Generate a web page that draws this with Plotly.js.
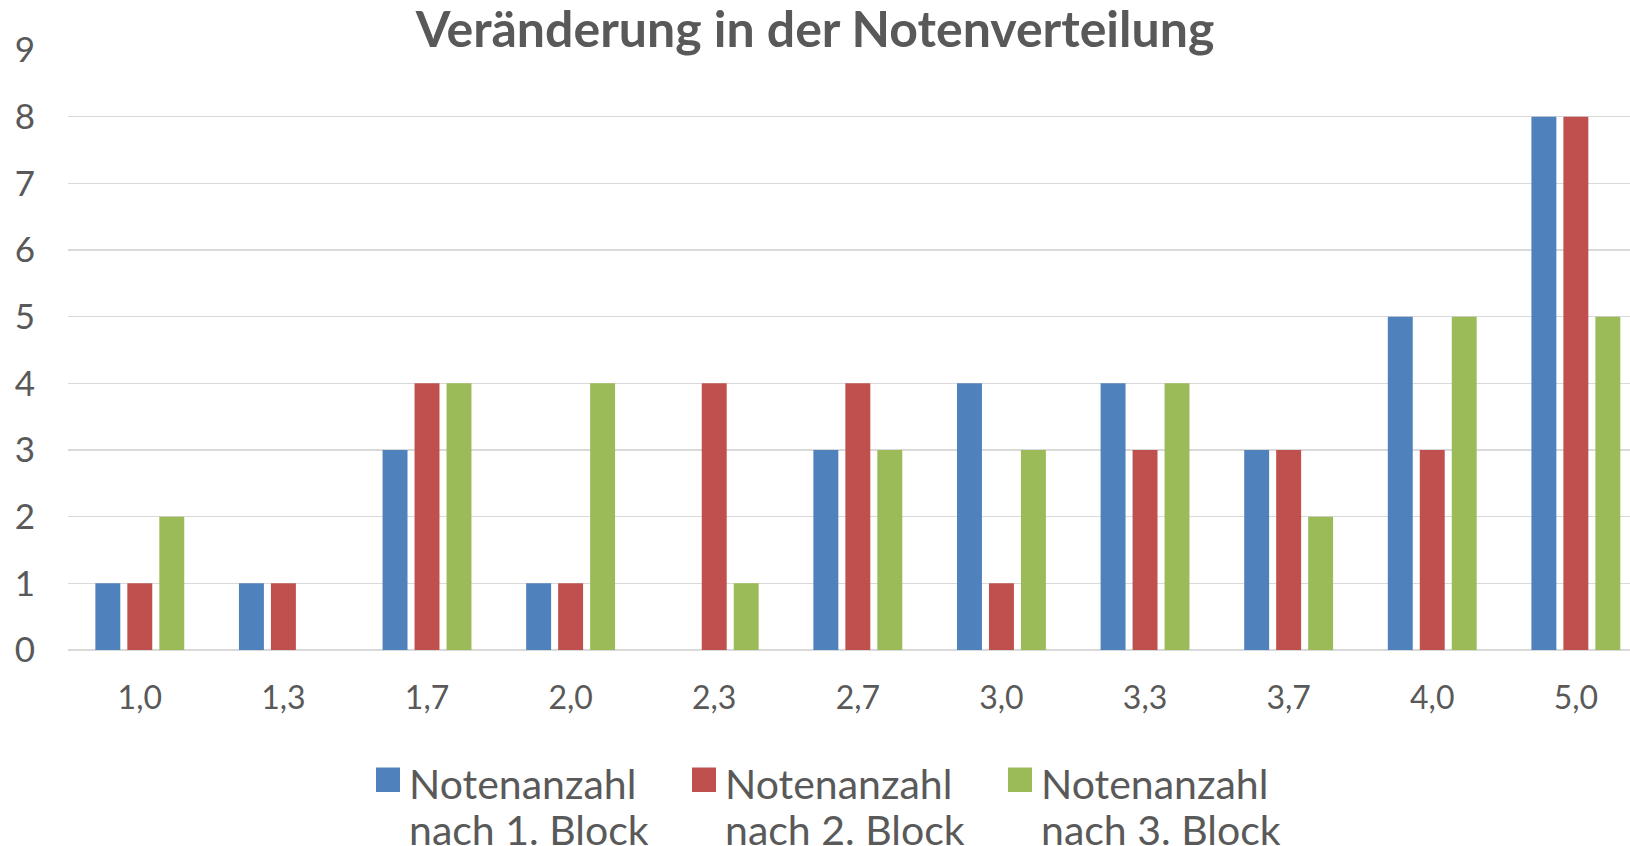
<!DOCTYPE html>
<html>
<head>
<meta charset="utf-8">
<script src="https://cdn.plot.ly/plotly-3.0.1.min.js"></script>
<style>
  html, body { margin: 0; padding: 0; background: #ffffff; }
  #chart { width: 1630px; height: 846px; }
</style>
</head>
<body>
<div id="chart"></div>
<script>
// ---- data ----
const categories = ["1,0", "1,3", "1,7", "2,0", "2,3", "2,7", "3,0", "3,3", "3,7", "4,0", "5,0"];
const block1 = [1, 1, 3, 1, 0, 3, 4, 4, 3, 5, 8];
const block2 = [1, 1, 4, 1, 4, 4, 1, 3, 3, 3, 8];
const block3 = [2, 0, 4, 4, 1, 3, 3, 4, 2, 5, 5];
const seriesNames = ["Notenanzahl<br>nach 1. Block", "Notenanzahl<br>nach 2. Block", "Notenanzahl<br>nach 3. Block"];
const seriesColors = ["#4F81BD", "#C0504D", "#9BBB59"];
const yTicks = [0, 1, 2, 3, 4, 5, 6, 7, 8, 9];
const chartTitle = "Veränderung in der Notenverteilung";

// ---- layout helpers (pixel -> paper) ----
const W = 1630, H = 846;
const M = { l: 68, r: 0, t: 50, b: 196 };
const PW = W - M.l - M.r, PH = H - M.t - M.b;
const px = x => (x - M.l) / PW;
const py = y => (H - M.b - y) / PH;

const textColor = "#595959";
const tickFont = "Lato, 'Open Sans', sans-serif";
const legendFont = "Lato, 'Open Sans', sans-serif";

const seriesValues = [block1, block2, block3];
const traces = seriesValues.map((vals, i) => ({
  type: "bar",
  x: categories,
  y: vals,
  name: seriesNames[i],
  marker: { color: seriesColors[i], line: { width: 0 } },
  hoverinfo: "x+y+name"
}));

// custom legend (large squares + two-line labels)
const legendSquareX = [376, 692, 1008];
const shapes = [];
const annotations = [];
seriesNames.forEach((nm, i) => {
  const x0 = legendSquareX[i];
  shapes.push({
    type: "rect", xref: "paper", yref: "paper",
    x0: px(x0), x1: px(x0 + 24), y0: py(792), y1: py(767.5),
    fillcolor: seriesColors[i], line: { width: 0 }
  });
  const lines = nm.split("<br>");
  const lineY = [783, 829];
  lines.forEach((ln, j) => {
    annotations.push({
      xref: "paper", yref: "paper",
      x: px(x0 + 32), y: py(lineY[j]),
      xanchor: "left", yanchor: "middle",
      text: ln, showarrow: false, borderpad: 0,
      font: { family: legendFont, size: 41, color: textColor }
    });
  });
});

const layout = {
  width: W, height: H,
  margin: M,
  paper_bgcolor: "#ffffff",
  plot_bgcolor: "#ffffff",
  showlegend: false,
  barmode: "group",
  bargap: 0.332,
  bargroupgap: 0.22,
  title: {
    text: "<b>" + chartTitle + "</b>",
    x: 0.5, xref: "container", xanchor: "center",
    y: 1 - 12 / H, yref: "container", yanchor: "top",
    font: { family: "Lato, 'Open Sans', sans-serif", size: 50, color: textColor }
  },
  xaxis: {
    type: "category",
    range: [-0.5, 10.377],
    showgrid: false, showline: false, zeroline: false,
    ticks: "",
    ticklabelstandoff: 26,
    tickfont: { family: tickFont, size: 32, color: textColor },
    fixedrange: true
  },
  yaxis: {
    range: [0, 9],
    tickvals: yTicks,
    ticktext: yTicks.map(String),
    showgrid: true, gridcolor: "#D9D9D9", gridwidth: 1.5,
    zeroline: true, zerolinecolor: "#D9D9D9", zerolinewidth: 1.5,
    showline: false, ticks: "",
    ticklabelstandoff: 32,
    tickfont: { family: tickFont, size: 35, color: textColor },
    fixedrange: true
  },
  shapes: shapes,
  annotations: annotations
};

Plotly.newPlot("chart", traces, layout, { displayModeBar: false, staticPlot: true });
</script>
</body>
</html>
